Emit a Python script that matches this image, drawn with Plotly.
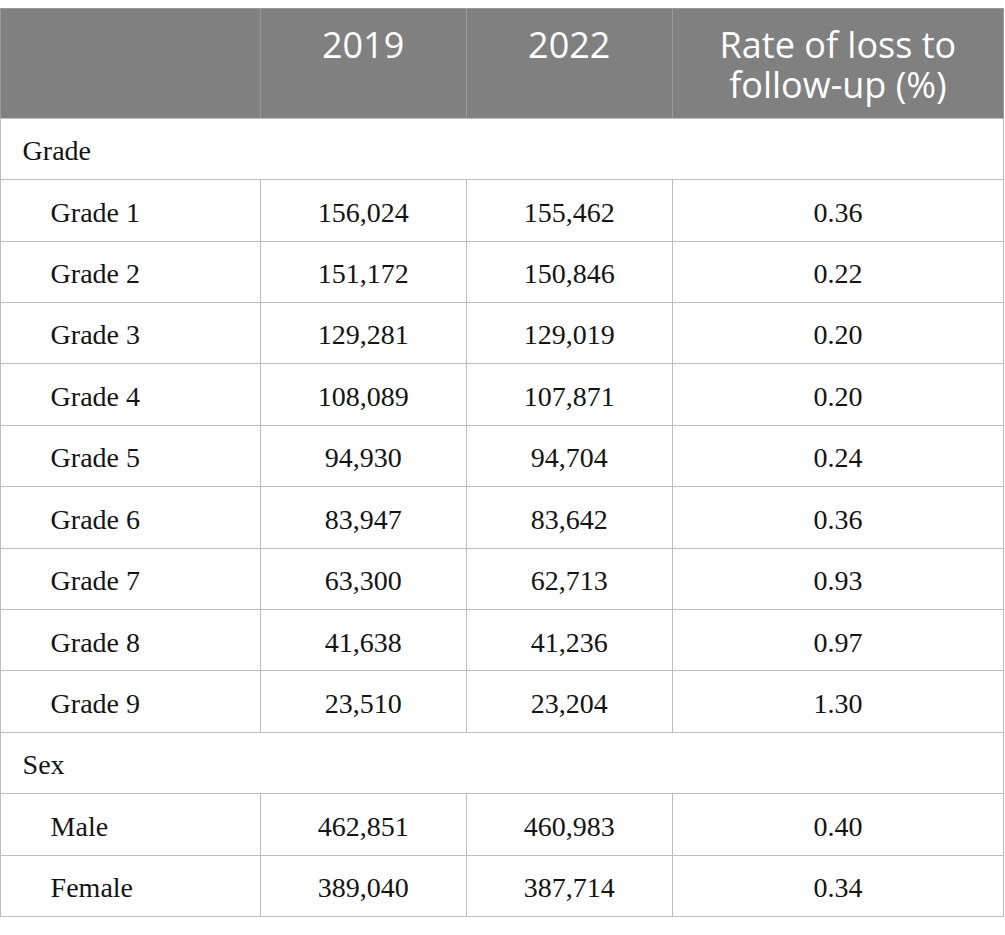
import plotly.graph_objects as go

# ---- data ----
header_line1 = ["", "2019", "2022", "Rate of loss to"]
header_line2 = ["", "", "", "follow-up (%)"]
row_labels = ["Grade", "Grade 1", "Grade 2", "Grade 3", "Grade 4", "Grade 5", "Grade 6",
              "Grade 7", "Grade 8", "Grade 9", "Sex", "Male", "Female"]
is_section = [True, False, False, False, False, False, False, False, False, False, True, False, False]
n_2019 = ["", "156,024", "151,172", "129,281", "108,089", "94,930", "83,947",
          "63,300", "41,638", "23,510", "", "462,851", "389,040"]
n_2022 = ["", "155,462", "150,846", "129,019", "107,871", "94,704", "83,642",
          "62,713", "41,236", "23,204", "", "460,983", "387,714"]
loss_rate = ["", "0.36", "0.22", "0.20", "0.20", "0.24", "0.36",
             "0.93", "0.97", "1.30", "", "0.40", "0.34"]

# ---- layout constants ----
W, H = 1005, 935
TOP = 8.7
HEADER_H = 109.6
ROW_H = 61.4
COL_W = [260, 206.5, 206.5, 332]
GRID = "#bdbdbd"
HEAD_FILL = "#808080"
SERIF = "Liberation Serif"
SANS = "Open Sans"
HEAD_SHIFT = 14     # vertical nudge of header text (px)
LINE2_GAP = 40      # distance between the two header lines (px)
CELL_SHIFT = 13     # vertical nudge of body text (px), to centre it in the rows
HEAD_SIZE = 36
BODY_SIZE = 28
CLEAR = "rgba(0,0,0,0)"

def label_text(lbl, section):
    pad = "\u00a0" * (2 if section else 6)
    return pad + lbl

first_col = [label_text(l, s) for l, s in zip(row_labels, is_section)]
columns = [first_col, n_2019, n_2022, loss_rate]
blank_cols = [["" for _ in col] for col in columns]

x0, x1 = 0.6 / W, 1 - 0.8 / W

fig = go.Figure()

# 1) grid: fills and rules
fig.add_trace(go.Table(
    domain=dict(x=[x0, x1], y=[0, 1 - TOP / H]),
    columnwidth=COL_W,
    header=dict(values=["" for _ in header_line1], fill_color=HEAD_FILL,
                line=dict(color="#9a9a9a", width=1), height=HEADER_H,
                font=dict(family=SANS, size=12, color="white")),
    cells=dict(values=blank_cols, fill_color="white",
               line=dict(color=GRID, width=1), height=ROW_H,
               font=dict(family=SERIF, size=12, color="black")),
))

# 2) full-width section rows drawn over the grid (no inner vertical rules)
for i, sec in enumerate(is_section):
    if not sec:
        continue
    top_px = TOP + HEADER_H + i * ROW_H
    fig.add_trace(go.Table(
        domain=dict(x=[x0, x1], y=[1 - (top_px + ROW_H + 3) / H, 1 - top_px / H]),
        columnwidth=[sum(COL_W)],
        header=dict(values=[""], fill_color="white", line=dict(color=GRID, width=1),
                    height=ROW_H, font=dict(family=SERIF, size=12, color="black")),
        cells=dict(values=[[]], fill_color="white", line=dict(color=GRID, width=0)),
    ))

# 3) text layer: header line 1 + body
fig.add_trace(go.Table(
    domain=dict(x=[x0, x1], y=[0, 1 - (TOP + HEAD_SHIFT) / H]),
    columnwidth=COL_W,
    header=dict(
        values=header_line1,
        fill_color=CLEAR,
        line=dict(color=CLEAR, width=0),
        font=dict(family=SANS, size=HEAD_SIZE, color="white"),
        align="center",
        height=HEADER_H + CELL_SHIFT - HEAD_SHIFT,
    ),
    cells=dict(
        values=columns,
        fill_color=CLEAR,
        line=dict(color=CLEAR, width=0),
        font=dict(family=SERIF, size=BODY_SIZE, color="#141414"),
        align=["left", "center", "center", "center"],
        height=ROW_H,
    ),
))

# 4) text layer: header line 2
top2 = TOP + HEAD_SHIFT + LINE2_GAP
fig.add_trace(go.Table(
    domain=dict(x=[x0, x1], y=[1 - (top2 + 50) / H, 1 - top2 / H]),
    columnwidth=COL_W,
    header=dict(
        values=header_line2,
        fill_color=CLEAR,
        line=dict(color=CLEAR, width=0),
        font=dict(family=SANS, size=HEAD_SIZE, color="white"),
        align="center",
        height=45,
    ),
    cells=dict(values=[[] for _ in header_line2], fill_color=CLEAR,
               line=dict(color=CLEAR, width=0)),
))

fig.update_layout(
    width=W, height=H,
    margin=dict(l=0, r=0, t=0, b=0),
    paper_bgcolor="white",
    showlegend=False,
)

fig.write_html("out.html", config={"displayModeBar": False},
               post_script="document.body.style.margin='0';")
